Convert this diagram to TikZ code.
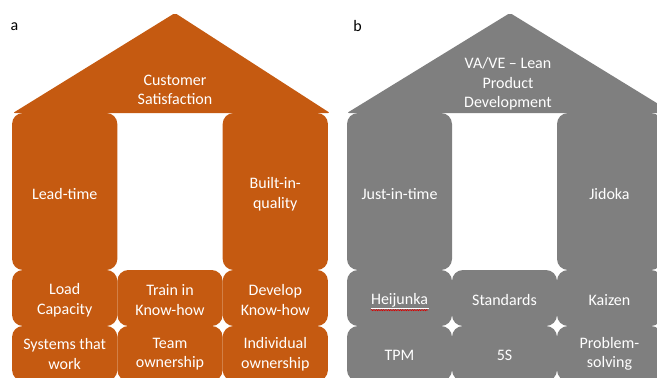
\documentclass[tikz,border=0pt]{standalone}
\usepackage{fontspec}
\setmainfont{Carlito}
\usetikzlibrary{decorations.pathmorphing}
\definecolor{houseorange}{HTML}{C55A11}
\definecolor{housegray}{HTML}{7F7F7F}
\begin{document}
\begin{tikzpicture}[x=1pt,y=-1pt,
  blk/.style={rectangle, rounded corners=11pt, inner sep=0pt, draw=none},
  orangeblk/.style={blk, fill=houseorange},
  grayblk/.style={blk, fill=housegray},
  txt/.style={text=white, align=center, inner sep=0pt,
    font=\fontsize{16}{19.5}\selectfont},
  panellabel/.style={text=black, inner sep=0pt, font=\fontsize{16}{19.5}\selectfont}]
\useasboundingbox (0,0) rectangle (657,378);
\clip (0,0) rectangle (657,378);

% ---------- house a ----------
\node[panellabel] (la) at (14.5,27) {a};
\fill[houseorange, rounded corners=2pt] (13,113) -- (175,13) -- (330,113) -- cycle;
\node[txt] (roofa) at (175,90) {Customer\\Satisfaction};

\node[orangeblk, minimum width=105.3pt, minimum height=157pt] (leadtime) at (64.7,191.5) {};
\node[orangeblk, minimum width=105.3pt, minimum height=157pt] (builtin) at (275.3,191.5) {};
\node[orangeblk, minimum width=105.3pt, minimum height=56pt] (load) at (64.7,298) {};
\node[orangeblk, minimum width=105.3pt, minimum height=56pt] (train) at (170,298) {};
\node[orangeblk, minimum width=105.3pt, minimum height=56pt] (develop) at (275.3,298) {};
\node[orangeblk, minimum width=105.3pt, minimum height=55pt] (systems) at (64.7,353.5) {};
\node[orangeblk, minimum width=105.3pt, minimum height=55pt] (team) at (170,353.5) {};
\node[orangeblk, minimum width=105.3pt, minimum height=55pt] (indiv) at (275.3,353.5) {};

\node[txt] (tleadtime) at ([yshift=-2.5pt]leadtime.center) {Lead-time};
\node[txt] (tbuiltin) at ([yshift=-2.5pt]builtin.center) {Built-in-\\quality};
\node[txt] (tload) at ([yshift=-2pt]load.center) {Load\\Capacity};
\node[txt] (ttrain) at ([yshift=-2pt]train.center) {Train in\\Know-how};
\node[txt] (tdevelop) at ([yshift=-2pt]develop.center) {Develop\\Know-how};
\node[txt] (tsystems) at ([yshift=-0.5pt]systems.center) {Systems that\\work};
\node[txt] (tteam) at ([yshift=-0.5pt]team.center) {Team\\ownership};
\node[txt] (tindiv) at ([yshift=-0.5pt]indiv.center) {Individual\\ownership};

% ---------- house b ----------
\node[panellabel] (lb) at (357.5,26) {b};
\fill[housegray, rounded corners=2pt] (347,113) -- (510,13) -- (673,113) -- cycle;
\node[txt] (roofb) at (508,84) {VA/VE -- Lean\\Product\\Development};

\node[grayblk, minimum width=105pt, minimum height=157pt] (jit) at (399.5,191.5) {};
\node[grayblk, minimum width=105pt, minimum height=157pt] (jidoka) at (609.5,191.5) {};
\node[grayblk, minimum width=105pt, minimum height=56pt] (heijunka) at (399.5,298) {};
\node[grayblk, minimum width=105pt, minimum height=56pt] (standards) at (504.5,298) {};
\node[grayblk, minimum width=105pt, minimum height=56pt] (kaizen) at (609.5,298) {};
\node[grayblk, minimum width=105pt, minimum height=55pt] (tpm) at (399.5,353.5) {};
\node[grayblk, minimum width=105pt, minimum height=55pt] (fives) at (504.5,353.5) {};
\node[grayblk, minimum width=105pt, minimum height=55pt] (problem) at (609.5,353.5) {};

\node[txt] (tjit) at ([yshift=-2.5pt]jit.center) {Just-in-time};
\node[txt] (tjidoka) at ([yshift=-2.5pt]jidoka.center) {Jidoka};
\node[txt] (theijunka) at ([yshift=-2pt]heijunka.center) {Heijunka};
\node[txt] (tstandards) at ([yshift=-2pt]standards.center) {Standards};
\node[txt] (tkaizen) at ([yshift=-2pt]kaizen.center) {Kaizen};
\node[txt] (ttpm) at ([yshift=-1.5pt]tpm.center) {TPM};
\node[txt] (tfives) at ([yshift=-1.5pt]fives.center) {5S};
\node[txt] (tproblem) at ([yshift=-0.5pt]problem.center) {Problem-\\solving};

% underline and spell-check squiggle under Heijunka
\draw[white, line width=0.5pt] (theijunka.south west) ++(0,-1.2pt) -- ++(58.5pt,0);
\draw[red!85!black, line width=0.6pt, decorate,
  decoration={snake, amplitude=0.6pt, segment length=2.4pt}]
  ([yshift=-3pt]theijunka.south west) -- ([yshift=-3pt]theijunka.south east);
\end{tikzpicture}
\end{document}
